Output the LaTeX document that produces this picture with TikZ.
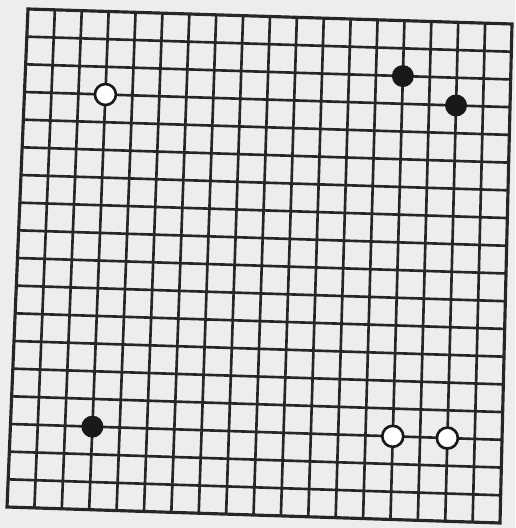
\documentclass[tikz,border=0pt]{standalone}
\usepackage{tikz}
\usetikzlibrary{calc}

\begin{document}
\begin{tikzpicture}[
    x=0.02cm, y=0.02cm,
    gridline/.style={line width=1.5pt, draw=black!85},
    frameline/.style={line width=1.8pt, draw=black!85},
    blackstone/.style={circle, fill=black!90, inner sep=0pt, minimum size=0.44cm},
    whitestone/.style={circle, draw=black!90, fill=white, line width=1.5pt, inner sep=0pt, minimum size=0.42cm}
]
    % Paper and bounding box
    \fill[white!93!black] (0,0) rectangle (515,528);
    \useasboundingbox (0,0) rectangle (515,528);

    % Board corners (the scan is slightly skewed)
    \coordinate (TL) at (28,519);
    \coordinate (TR) at (512,504);
    \coordinate (BL) at (7,21);
    \coordinate (BR) at (500,5);

    % Points along the edges
    \foreach \i in {0,...,18} {
        \coordinate (t\i) at ($(TL)!\i/18!(TR)$);
        \coordinate (b\i) at ($(BL)!\i/18!(BR)$);
        \coordinate (l\i) at ($(TL)!\i/18!(BL)$);
        \coordinate (r\i) at ($(TR)!\i/18!(BR)$);
    }

    % Grid lines
    \foreach \i in {1,...,17} {
        \draw[gridline] (t\i) -- (b\i);
        \draw[gridline] (l\i) -- (r\i);
    }
    \draw[frameline, line join=miter] (TL) -- (TR) -- (BR) -- (BL) -- cycle;

    % Stones
    \node[whitestone] (w1) at ($(t3)!3/18!(b3)$) {};
    \node[blackstone] (s1) at ($(t14)!2/18!(b14)$) {};
    \node[blackstone] (s2) at ($(t16)!3/18!(b16)$) {};
    \node[blackstone] (s3) at ($(t3)!15/18!(b3)$) {};
    \node[whitestone] (w2) at ($(t14)!15/18!(b14)$) {};
    \node[whitestone] (w3) at ($(t16)!15/18!(b16)$) {};

\end{tikzpicture}
\end{document}
